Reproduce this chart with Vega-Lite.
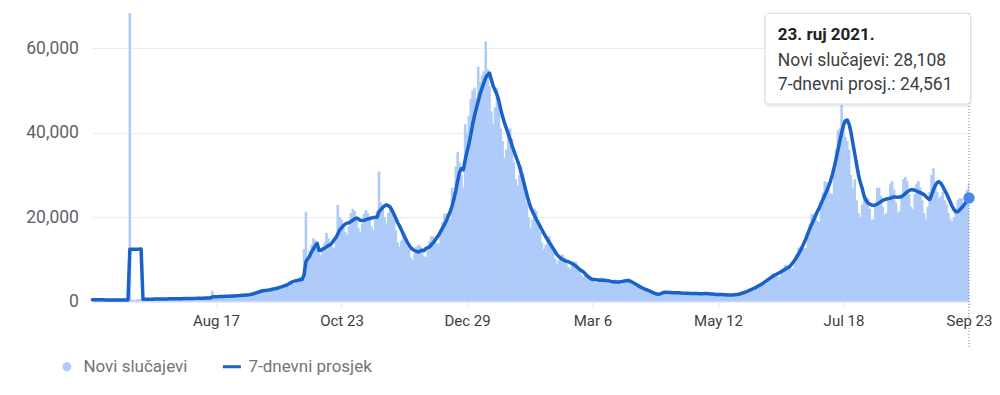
{
"$schema": "https://vega.github.io/schema/vega-lite/v6.json",
"width": 876.6,
"height": 288.8,
"autosize": {"type": "none"},
"padding": {"left": 92.4, "top": 13, "right": 31, "bottom": 93.2},
"background": "white",
"config": {"view": {"stroke": null}, "font": "Roboto", "text": {"font": "Roboto"}},
"data": {"values": [
{"d":"2020-06-12","c":540,"a":500},{"d":"2020-06-13","c":500,"a":490},{"d":"2020-06-14","c":430,"a":480},{"d":"2020-06-15","c":400,"a":470},{"d":"2020-06-16","c":460,"a":470},{"d":"2020-06-17","c":490,"a":460},{"d":"2020-06-18","c":520,"a":460},{"d":"2020-06-19","c":480,"a":450},{"d":"2020-06-20","c":450,"a":450},{"d":"2020-06-21","c":400,"a":440},{"d":"2020-06-22","c":380,"a":440},{"d":"2020-06-23","c":450,"a":430},{"d":"2020-06-24","c":470,"a":430},{"d":"2020-06-25","c":490,"a":430},{"d":"2020-06-26","c":460,"a":420},{"d":"2020-06-27","c":420,"a":420},{"d":"2020-06-28","c":380,"a":420},{"d":"2020-06-29","c":360,"a":420},{"d":"2020-06-30","c":420,"a":420},
{"d":"2020-07-01","c":450,"a":420},{"d":"2020-07-02","c":84400,"a":12400},{"d":"2020-07-03","c":560,"a":12410},{"d":"2020-07-04","c":480,"a":12420},{"d":"2020-07-05","c":450,"a":12430},{"d":"2020-07-06","c":560,"a":12450},{"d":"2020-07-07","c":620,"a":12460},{"d":"2020-07-08","c":650,"a":12480},{"d":"2020-07-09","c":640,"a":600},{"d":"2020-07-10","c":600,"a":610},{"d":"2020-07-11","c":540,"a":610},{"d":"2020-07-12","c":520,"a":620},{"d":"2020-07-13","c":600,"a":620},{"d":"2020-07-14","c":680,"a":630},{"d":"2020-07-15","c":700,"a":640},{"d":"2020-07-16","c":690,"a":640},{"d":"2020-07-17","c":640,"a":650},{"d":"2020-07-18","c":590,"a":660},{"d":"2020-07-19","c":560,"a":660},{"d":"2020-07-20","c":650,"a":670},{"d":"2020-07-21","c":720,"a":680},{"d":"2020-07-22","c":760,"a":690},{"d":"2020-07-23","c":750,"a":700},{"d":"2020-07-24","c":700,"a":700},{"d":"2020-07-25","c":640,"a":710},{"d":"2020-07-26","c":600,"a":710},{"d":"2020-07-27","c":700,"a":720},{"d":"2020-07-28","c":780,"a":730},{"d":"2020-07-29","c":820,"a":740},{"d":"2020-07-30","c":810,"a":750},{"d":"2020-07-31","c":760,"a":760},
{"d":"2020-08-01","c":690,"a":770},{"d":"2020-08-02","c":660,"a":780},{"d":"2020-08-03","c":760,"a":790},{"d":"2020-08-04","c":850,"a":800},{"d":"2020-08-05","c":900,"a":800},{"d":"2020-08-06","c":870,"a":810},{"d":"2020-08-07","c":820,"a":820},{"d":"2020-08-08","c":750,"a":830},{"d":"2020-08-09","c":710,"a":840},{"d":"2020-08-10","c":820,"a":850},{"d":"2020-08-11","c":930,"a":870},{"d":"2020-08-12","c":1000,"a":890},{"d":"2020-08-13","c":980,"a":900},{"d":"2020-08-14","c":930,"a":920},{"d":"2020-08-15","c":2600,"a":1150},{"d":"2020-08-16","c":800,"a":1180},{"d":"2020-08-17","c":1050,"a":1200},{"d":"2020-08-18","c":1150,"a":1220},{"d":"2020-08-19","c":1300,"a":1240},{"d":"2020-08-20","c":1380,"a":1260},{"d":"2020-08-21","c":1300,"a":1280},{"d":"2020-08-22","c":1250,"a":1290},{"d":"2020-08-23","c":1180,"a":1310},{"d":"2020-08-24","c":1120,"a":1330},{"d":"2020-08-25","c":1300,"a":1350},{"d":"2020-08-26","c":1450,"a":1370},{"d":"2020-08-27","c":1580,"a":1400},{"d":"2020-08-28","c":1540,"a":1430},{"d":"2020-08-29","c":1460,"a":1460},{"d":"2020-08-30","c":1350,"a":1500},{"d":"2020-08-31","c":1300,"a":1530},
{"d":"2020-09-01","c":1510,"a":1560},{"d":"2020-09-02","c":1700,"a":1590},{"d":"2020-09-03","c":1830,"a":1620},{"d":"2020-09-04","c":1840,"a":1700},{"d":"2020-09-05","c":1800,"a":1800},{"d":"2020-09-06","c":1710,"a":1900},{"d":"2020-09-07","c":1740,"a":2050},{"d":"2020-09-08","c":2130,"a":2200},{"d":"2020-09-09","c":2510,"a":2350},{"d":"2020-09-10","c":2830,"a":2500},{"d":"2020-09-11","c":2810,"a":2600},{"d":"2020-09-12","c":2650,"a":2650},{"d":"2020-09-13","c":2430,"a":2700},{"d":"2020-09-14","c":2360,"a":2780},{"d":"2020-09-15","c":2760,"a":2850},{"d":"2020-09-16","c":3160,"a":2950},{"d":"2020-09-17","c":3450,"a":3050},{"d":"2020-09-18","c":3400,"a":3150},{"d":"2020-09-19","c":3250,"a":3250},{"d":"2020-09-20","c":3060,"a":3400},{"d":"2020-09-21","c":3020,"a":3550},{"d":"2020-09-22","c":3590,"a":3700},{"d":"2020-09-23","c":4120,"a":3850},{"d":"2020-09-24","c":4520,"a":4000},{"d":"2020-09-25","c":4640,"a":4300},{"d":"2020-09-26","c":4550,"a":4550},{"d":"2020-09-27","c":4280,"a":4760},{"d":"2020-09-28","c":4170,"a":4900},{"d":"2020-09-29","c":4850,"a":5000},{"d":"2020-09-30","c":5460,"a":5100},
{"d":"2020-10-01","c":5880,"a":5200},{"d":"2020-10-02","c":5720,"a":5300},{"d":"2020-10-03","c":12500,"a":6400},{"d":"2020-10-04","c":21300,"a":9500},{"d":"2020-10-05","c":10000,"a":10200},{"d":"2020-10-06","c":12000,"a":10800},{"d":"2020-10-07","c":13500,"a":11800},{"d":"2020-10-08","c":15000,"a":12500},{"d":"2020-10-09","c":14500,"a":13300},{"d":"2020-10-10","c":13500,"a":13800},{"d":"2020-10-11","c":11500,"a":12100},{"d":"2020-10-12","c":11000,"a":12200},{"d":"2020-10-13","c":12500,"a":12500},{"d":"2020-10-14","c":14000,"a":12700},{"d":"2020-10-15","c":16300,"a":13000},{"d":"2020-10-16","c":15000,"a":13300},{"d":"2020-10-17","c":13800,"a":13500},{"d":"2020-10-18","c":13000,"a":14000},{"d":"2020-10-19","c":12800,"a":14600},{"d":"2020-10-20","c":15000,"a":15200},{"d":"2020-10-21","c":22900,"a":16000},{"d":"2020-10-22","c":20000,"a":17000},{"d":"2020-10-23","c":19500,"a":17500},{"d":"2020-10-24","c":18500,"a":18000},{"d":"2020-10-25","c":16500,"a":18400},{"d":"2020-10-26","c":15800,"a":18600},{"d":"2020-10-27","c":18000,"a":18700},{"d":"2020-10-28","c":21000,"a":19000},{"d":"2020-10-29","c":22000,"a":19300},{"d":"2020-10-30","c":21500,"a":19600},{"d":"2020-10-31","c":20000,"a":19800},
{"d":"2020-11-01","c":17500,"a":19600},{"d":"2020-11-02","c":16500,"a":19300},{"d":"2020-11-03","c":18500,"a":19200},{"d":"2020-11-04","c":20800,"a":19300},{"d":"2020-11-05","c":21700,"a":19400},{"d":"2020-11-06","c":21000,"a":19600},{"d":"2020-11-07","c":19800,"a":19700},{"d":"2020-11-08","c":17800,"a":19800},{"d":"2020-11-09","c":16900,"a":19900},{"d":"2020-11-10","c":19500,"a":20000},{"d":"2020-11-11","c":21500,"a":20000},{"d":"2020-11-12","c":30800,"a":21300},{"d":"2020-11-13","c":23500,"a":21800},{"d":"2020-11-14","c":22500,"a":22300},{"d":"2020-11-15","c":20000,"a":22700},{"d":"2020-11-16","c":18500,"a":22900},{"d":"2020-11-17","c":21000,"a":22700},{"d":"2020-11-18","c":23000,"a":22400},{"d":"2020-11-19","c":21500,"a":21600},{"d":"2020-11-20","c":19500,"a":20700},{"d":"2020-11-21","c":17000,"a":19700},{"d":"2020-11-22","c":14000,"a":18700},{"d":"2020-11-23","c":13000,"a":17900},{"d":"2020-11-24","c":14500,"a":17000},{"d":"2020-11-25","c":16000,"a":16000},{"d":"2020-11-26","c":15000,"a":15100},{"d":"2020-11-27","c":13000,"a":14200},{"d":"2020-11-28","c":12500,"a":13400},{"d":"2020-11-29","c":10500,"a":12800},{"d":"2020-11-30","c":9900,"a":12400},
{"d":"2020-12-01","c":11500,"a":12100},{"d":"2020-12-02","c":13000,"a":11900},{"d":"2020-12-03","c":13500,"a":11800},{"d":"2020-12-04","c":13200,"a":12000},{"d":"2020-12-05","c":12300,"a":12200},{"d":"2020-12-06","c":10800,"a":12100},{"d":"2020-12-07","c":10600,"a":12600},{"d":"2020-12-08","c":12700,"a":12800},{"d":"2020-12-09","c":14300,"a":13000},{"d":"2020-12-10","c":15500,"a":13500},{"d":"2020-12-11","c":15500,"a":14000},{"d":"2020-12-12","c":14600,"a":14600},{"d":"2020-12-13","c":13800,"a":15200},{"d":"2020-12-14","c":13800,"a":15900},{"d":"2020-12-15","c":16500,"a":16700},{"d":"2020-12-16","c":18900,"a":17500},{"d":"2020-12-17","c":20800,"a":18300},{"d":"2020-12-18","c":20900,"a":19200},{"d":"2020-12-19","c":20500,"a":20300},{"d":"2020-12-20","c":19500,"a":21300},{"d":"2020-12-21","c":27000,"a":22600},{"d":"2020-12-22","c":26000,"a":24300},{"d":"2020-12-23","c":32000,"a":26300},{"d":"2020-12-24","c":35500,"a":28600},{"d":"2020-12-25","c":33000,"a":30600},{"d":"2020-12-26","c":30000,"a":31500},{"d":"2020-12-27","c":27000,"a":31200},{"d":"2020-12-28","c":42000,"a":33500},{"d":"2020-12-29","c":40000,"a":35500},{"d":"2020-12-30","c":44000,"a":37300},{"d":"2020-12-31","c":48000,"a":39500},
{"d":"2021-01-01","c":50000,"a":42000},{"d":"2021-01-02","c":50600,"a":44000},{"d":"2021-01-03","c":48000,"a":45800},{"d":"2021-01-04","c":55600,"a":47500},{"d":"2021-01-05","c":52000,"a":49200},{"d":"2021-01-06","c":53500,"a":50500},{"d":"2021-01-07","c":54500,"a":51800},{"d":"2021-01-08","c":61600,"a":53000},{"d":"2021-01-09","c":55000,"a":53700},{"d":"2021-01-10","c":51000,"a":54100},{"d":"2021-01-11","c":45000,"a":52500},{"d":"2021-01-12","c":42000,"a":51000},{"d":"2021-01-13","c":46000,"a":50000},{"d":"2021-01-14","c":50600,"a":49000},{"d":"2021-01-15","c":48500,"a":47500},{"d":"2021-01-16","c":41000,"a":45500},{"d":"2021-01-17","c":38000,"a":43800},{"d":"2021-01-18","c":34000,"a":42300},{"d":"2021-01-19","c":36000,"a":41000},{"d":"2021-01-20","c":40500,"a":39700},{"d":"2021-01-21","c":41000,"a":38500},{"d":"2021-01-22","c":38500,"a":37000},{"d":"2021-01-23","c":33000,"a":35700},{"d":"2021-01-24","c":29000,"a":34500},{"d":"2021-01-25","c":27500,"a":33300},{"d":"2021-01-26","c":30000,"a":32000},{"d":"2021-01-27","c":32000,"a":30300},{"d":"2021-01-28","c":30500,"a":28800},{"d":"2021-01-29","c":27500,"a":27000},{"d":"2021-01-30","c":23500,"a":25300},{"d":"2021-01-31","c":20000,"a":23700},
{"d":"2021-02-01","c":17500,"a":22300},{"d":"2021-02-02","c":19500,"a":21300},{"d":"2021-02-03","c":22000,"a":20400},{"d":"2021-02-04","c":21500,"a":19500},{"d":"2021-02-05","c":19500,"a":18700},{"d":"2021-02-06","c":16500,"a":17900},{"d":"2021-02-07","c":14000,"a":17000},{"d":"2021-02-08","c":12500,"a":16200},{"d":"2021-02-09","c":13500,"a":15400},{"d":"2021-02-10","c":15500,"a":14700},{"d":"2021-02-11","c":15500,"a":14000},{"d":"2021-02-12","c":14000,"a":13300},{"d":"2021-02-13","c":11800,"a":12600},{"d":"2021-02-14","c":10200,"a":11900},{"d":"2021-02-15","c":9000,"a":11200},{"d":"2021-02-16","c":9800,"a":10700},{"d":"2021-02-17","c":11000,"a":10300},{"d":"2021-02-18","c":11200,"a":10000},{"d":"2021-02-19","c":10500,"a":9800},{"d":"2021-02-20","c":9300,"a":9600},{"d":"2021-02-21","c":8300,"a":9500},{"d":"2021-02-22","c":7800,"a":9300},{"d":"2021-02-23","c":8800,"a":9100},{"d":"2021-02-24","c":9400,"a":8800},{"d":"2021-02-25","c":9500,"a":8500},{"d":"2021-02-26","c":8700,"a":8100},{"d":"2021-02-27","c":7500,"a":7700},{"d":"2021-02-28","c":6400,"a":7400},
{"d":"2021-03-01","c":5800,"a":7100},{"d":"2021-03-02","c":6300,"a":6700},{"d":"2021-03-03","c":6500,"a":6200},{"d":"2021-03-04","c":6400,"a":5800},{"d":"2021-03-05","c":5900,"a":5500},{"d":"2021-03-06","c":5200,"a":5300},{"d":"2021-03-07","c":4700,"a":5250},{"d":"2021-03-08","c":4400,"a":5200},{"d":"2021-03-09","c":5000,"a":5150},{"d":"2021-03-10","c":5500,"a":5100},{"d":"2021-03-11","c":5800,"a":5100},{"d":"2021-03-12","c":5500,"a":5100},{"d":"2021-03-13","c":5000,"a":5050},{"d":"2021-03-14","c":4500,"a":5000},{"d":"2021-03-15","c":4200,"a":4900},{"d":"2021-03-16","c":4600,"a":4800},{"d":"2021-03-17","c":5100,"a":4750},{"d":"2021-03-18","c":5300,"a":4700},{"d":"2021-03-19","c":5100,"a":4700},{"d":"2021-03-20","c":4700,"a":4700},{"d":"2021-03-21","c":4300,"a":4750},{"d":"2021-03-22","c":4100,"a":4800},{"d":"2021-03-23","c":4800,"a":4900},{"d":"2021-03-24","c":5400,"a":5000},{"d":"2021-03-25","c":5600,"a":5000},{"d":"2021-03-26","c":5300,"a":4900},{"d":"2021-03-27","c":4700,"a":4700},{"d":"2021-03-28","c":4000,"a":4450},{"d":"2021-03-29","c":3600,"a":4200},{"d":"2021-03-30","c":3800,"a":3900},{"d":"2021-03-31","c":3900,"a":3650},
{"d":"2021-04-01","c":3800,"a":3400},{"d":"2021-04-02","c":3400,"a":3200},{"d":"2021-04-03","c":3000,"a":3000},{"d":"2021-04-04","c":2550,"a":2850},{"d":"2021-04-05","c":2250,"a":2650},{"d":"2021-04-06","c":2400,"a":2450},{"d":"2021-04-07","c":2400,"a":2250},{"d":"2021-04-08","c":2300,"a":2050},{"d":"2021-04-09","c":2050,"a":1900},{"d":"2021-04-10","c":1800,"a":1800},{"d":"2021-04-11","c":1700,"a":1850},{"d":"2021-04-12","c":2300,"a":2050},{"d":"2021-04-13","c":2600,"a":2200},{"d":"2021-04-14","c":2500,"a":2250},{"d":"2021-04-15","c":2500,"a":2250},{"d":"2021-04-16","c":2300,"a":2200},{"d":"2021-04-17","c":2200,"a":2200},{"d":"2021-04-18","c":1900,"a":2150},{"d":"2021-04-19","c":1850,"a":2150},{"d":"2021-04-20","c":2100,"a":2150},{"d":"2021-04-21","c":2300,"a":2150},{"d":"2021-04-22","c":2350,"a":2100},{"d":"2021-04-23","c":2200,"a":2050},{"d":"2021-04-24","c":2000,"a":2000},{"d":"2021-04-25","c":1800,"a":2000},{"d":"2021-04-26","c":1700,"a":2000},{"d":"2021-04-27","c":1900,"a":1950},{"d":"2021-04-28","c":2100,"a":1950},{"d":"2021-04-29","c":2200,"a":1950},{"d":"2021-04-30","c":2100,"a":1950},
{"d":"2021-05-01","c":1950,"a":1950},{"d":"2021-05-02","c":1700,"a":1900},{"d":"2021-05-03","c":1600,"a":1900},{"d":"2021-05-04","c":1850,"a":1900},{"d":"2021-05-05","c":2100,"a":1950},{"d":"2021-05-06","c":2200,"a":1950},{"d":"2021-05-07","c":2050,"a":1900},{"d":"2021-05-08","c":1850,"a":1850},{"d":"2021-05-09","c":1650,"a":1850},{"d":"2021-05-10","c":1550,"a":1800},{"d":"2021-05-11","c":1700,"a":1750},{"d":"2021-05-12","c":1850,"a":1750},{"d":"2021-05-13","c":1900,"a":1700},{"d":"2021-05-14","c":1850,"a":1700},{"d":"2021-05-15","c":1650,"a":1650},{"d":"2021-05-16","c":1500,"a":1650},{"d":"2021-05-17","c":1400,"a":1600},{"d":"2021-05-18","c":1550,"a":1600},{"d":"2021-05-19","c":1700,"a":1600},{"d":"2021-05-20","c":1800,"a":1600},{"d":"2021-05-21","c":1800,"a":1650},{"d":"2021-05-22","c":1700,"a":1700},{"d":"2021-05-23","c":1650,"a":1800},{"d":"2021-05-24","c":1650,"a":1900},{"d":"2021-05-25","c":2000,"a":2050},{"d":"2021-05-26","c":2350,"a":2200},{"d":"2021-05-27","c":2650,"a":2350},{"d":"2021-05-28","c":2750,"a":2550},{"d":"2021-05-29","c":2750,"a":2750},{"d":"2021-05-30","c":2650,"a":2950},{"d":"2021-05-31","c":2700,"a":3150},
{"d":"2021-06-01","c":3250,"a":3350},{"d":"2021-06-02","c":3850,"a":3600},{"d":"2021-06-03","c":4350,"a":3850},{"d":"2021-06-04","c":4450,"a":4100},{"d":"2021-06-05","c":4400,"a":4400},{"d":"2021-06-06","c":4250,"a":4700},{"d":"2021-06-07","c":4250,"a":5000},{"d":"2021-06-08","c":5200,"a":5350},{"d":"2021-06-09","c":6050,"a":5650},{"d":"2021-06-10","c":6700,"a":5950},{"d":"2021-06-11","c":6700,"a":6200},{"d":"2021-06-12","c":6450,"a":6450},{"d":"2021-06-13","c":6000,"a":6700},{"d":"2021-06-14","c":5900,"a":6950},{"d":"2021-06-15","c":7000,"a":7200},{"d":"2021-06-16","c":8000,"a":7450},{"d":"2021-06-17","c":8750,"a":7750},{"d":"2021-06-18","c":8650,"a":8000},{"d":"2021-06-19","c":8250,"a":8250},{"d":"2021-06-20","c":7800,"a":8700},{"d":"2021-06-21","c":7900,"a":9300},{"d":"2021-06-22","c":9600,"a":9900},{"d":"2021-06-23","c":11300,"a":10600},{"d":"2021-06-24","c":12800,"a":11300},{"d":"2021-06-25","c":13100,"a":12100},{"d":"2021-06-26","c":13000,"a":13000},{"d":"2021-06-27","c":12600,"a":14000},{"d":"2021-06-28","c":12800,"a":15000},{"d":"2021-06-29","c":15700,"a":16200},{"d":"2021-06-30","c":18500,"a":17300},
{"d":"2021-07-01","c":20700,"a":18300},{"d":"2021-07-02","c":20800,"a":19300},{"d":"2021-07-03","c":20300,"a":20300},{"d":"2021-07-04","c":19200,"a":21300},{"d":"2021-07-05","c":18900,"a":22200},{"d":"2021-07-06","c":22500,"a":23200},{"d":"2021-07-07","c":25900,"a":24200},{"d":"2021-07-08","c":28500,"a":25200},{"d":"2021-07-09","c":28300,"a":26200},{"d":"2021-07-10","c":27300,"a":27300},{"d":"2021-07-11","c":25700,"a":28500},{"d":"2021-07-12","c":25500,"a":30000},{"d":"2021-07-13","c":30800,"a":31800},{"d":"2021-07-14","c":36100,"a":33700},{"d":"2021-07-15","c":40500,"a":35800},{"d":"2021-07-16","c":41000,"a":38000},{"d":"2021-07-17","c":46600,"a":40000},{"d":"2021-07-18","c":42000,"a":41800},{"d":"2021-07-19","c":39000,"a":42800},{"d":"2021-07-20","c":38000,"a":43000},{"d":"2021-07-21","c":36000,"a":42000},{"d":"2021-07-22","c":30000,"a":40000},{"d":"2021-07-23","c":27000,"a":37500},{"d":"2021-07-24","c":29000,"a":35000},{"d":"2021-07-25","c":24000,"a":32500},{"d":"2021-07-26","c":21000,"a":30000},{"d":"2021-07-27","c":20000,"a":28200},{"d":"2021-07-28","c":23000,"a":26800},{"d":"2021-07-29","c":25000,"a":25000},{"d":"2021-07-30","c":25000,"a":24000},{"d":"2021-07-31","c":24500,"a":23400},
{"d":"2021-08-01","c":22000,"a":23100},{"d":"2021-08-02","c":19400,"a":22900},{"d":"2021-08-03","c":19500,"a":22800},{"d":"2021-08-04","c":23000,"a":22900},{"d":"2021-08-05","c":27000,"a":23100},{"d":"2021-08-06","c":27000,"a":23400},{"d":"2021-08-07","c":25000,"a":23700},{"d":"2021-08-08","c":22500,"a":24000},{"d":"2021-08-09","c":20500,"a":24200},{"d":"2021-08-10","c":21000,"a":24300},{"d":"2021-08-11","c":24000,"a":24400},{"d":"2021-08-12","c":28000,"a":24500},{"d":"2021-08-13","c":28500,"a":24700},{"d":"2021-08-14","c":26500,"a":24800},{"d":"2021-08-15","c":23500,"a":24800},{"d":"2021-08-16","c":21000,"a":24700},{"d":"2021-08-17","c":21500,"a":24800},{"d":"2021-08-18","c":25000,"a":24900},{"d":"2021-08-19","c":29000,"a":25200},{"d":"2021-08-20","c":29500,"a":25600},{"d":"2021-08-21","c":28500,"a":26000},{"d":"2021-08-22","c":25500,"a":26300},{"d":"2021-08-23","c":22500,"a":26500},{"d":"2021-08-24","c":22000,"a":26500},{"d":"2021-08-25","c":25500,"a":26400},{"d":"2021-08-26","c":28000,"a":26200},{"d":"2021-08-27","c":28500,"a":26000},{"d":"2021-08-28","c":27000,"a":25800},{"d":"2021-08-29","c":24000,"a":25600},{"d":"2021-08-30","c":21000,"a":25300},{"d":"2021-08-31","c":19500,"a":24900},
{"d":"2021-09-01","c":22500,"a":24500},{"d":"2021-09-02","c":26000,"a":24200},{"d":"2021-09-03","c":30000,"a":25200},{"d":"2021-09-04","c":31600,"a":26500},{"d":"2021-09-05","c":28000,"a":27500},{"d":"2021-09-06","c":26000,"a":28200},{"d":"2021-09-07","c":24500,"a":28400},{"d":"2021-09-08","c":25000,"a":28000},{"d":"2021-09-09","c":26000,"a":27300},{"d":"2021-09-10","c":24000,"a":26400},{"d":"2021-09-11","c":23000,"a":25600},{"d":"2021-09-12","c":21000,"a":24600},{"d":"2021-09-13","c":19500,"a":23600},{"d":"2021-09-14","c":19000,"a":22600},{"d":"2021-09-15","c":20000,"a":21800},{"d":"2021-09-16","c":22000,"a":21300},{"d":"2021-09-17","c":24000,"a":21300},{"d":"2021-09-18","c":24500,"a":21700},{"d":"2021-09-19","c":24500,"a":22200},{"d":"2021-09-20","c":22500,"a":22700},{"d":"2021-09-21","c":23000,"a":23300},{"d":"2021-09-22","c":26500,"a":23900},{"d":"2021-09-23","c":28108,"a":24561}
]},
"encoding": {
  "x": {"field": "d", "type": "temporal", "title": null,
    "scale": {"type": "utc", "padding": 0, "domain": [{"year": 2020, "month": 6, "date": 12, "utc": true}, {"year": 2021, "month": 9, "date": 23, "utc": true}]},
    "axis": {"values": [{"year": 2020, "month": 8, "date": 17, "utc": true}, {"year": 2020, "month": 10, "date": 23, "utc": true}, {"year": 2020, "month": 12, "date": 29, "utc": true}, {"year": 2021, "month": 3, "date": 6, "utc": true}, {"year": 2021, "month": 5, "date": 12, "utc": true}, {"year": 2021, "month": 7, "date": 18, "utc": true}, {"year": 2021, "month": 9, "date": 23, "utc": true}],
      "format": "%b %-d", "grid": false, "domain": false, "ticks": true, "tickSize": 5, "tickColor": "#e3e3e3", "labelPadding": 7, "labelFont": "Roboto", "labelFontSize": 15, "labelColor": "#3c4043", "labelFlush": false, "labelOverlap": false, "title": null}},
  "y": {"field": "c", "type": "quantitative", "title": null,
    "scale": {"domain": [0, 68300], "nice": false},
    "axis": {"values": [0, 20000, 40000, 60000], "format": ",d", "grid": true, "gridColor": "#ebebeb", "domain": false, "ticks": false, "labelPadding": 14, "labelFont": "Roboto", "labelFontSize": 17.5, "labelColor": "#5f6368", "title": null}}
},
"layer": [
  {"mark": {"type": "bar", "width": 2.6, "clip": true},
   "encoding": {
     "color": {"datum": "Novi slučajevi", "type": "nominal",
       "scale": {"domain": ["Novi slučajevi", "7-dnevni prosjek"], "range": ["#aecbfa", "#1a62c8"]},
       "legend": {"orient": "none", "legendX": -34, "legendY": 345, "direction": "horizontal", "title": null, "padding": 0,
         "labelFont": "Roboto", "labelFontSize": 17, "labelColor": "#70757a", "symbolSize": 324, "labelOffset": 8, "columnPadding": 28,
         "encode": {"symbols": {"update": {
           "shape": {"signal": "datum.value === 'Novi slučajevi' ? 'circle' : 'stroke'"},
           "size": {"signal": "datum.value === 'Novi slučajevi' ? 80 : 324"},
           "strokeWidth": {"signal": "datum.value === 'Novi slučajevi' ? 0 : 3"},
           "fill": {"signal": "datum.value === 'Novi slučajevi' ? '#aecbfa' : 'transparent'"},
           "stroke": {"signal": "datum.value === 'Novi slučajevi' ? 'transparent' : '#1a62c8'"},
           "opacity": {"value": 1}}}}}}
   }},
  {"mark": {"type": "line", "strokeWidth": 3.5, "strokeJoin": "round", "strokeCap": "round"},
   "encoding": {
     "y": {"field": "a", "type": "quantitative", "title": null},
     "color": {"datum": "7-dnevni prosjek", "type": "nominal"}
   }},
  {"transform": [{"filter": "datum.a == 24561"}],
   "mark": {"type": "rule", "color": "#80868b", "strokeWidth": 1, "strokeDash": [1, 2]},
   "encoding": {
     "y": {"datum": 68300},
     "y2": {"datum": -10700}
   }},
  {"transform": [{"filter": "datum.a == 24561"}],
   "mark": {"type": "rect", "fill": "#000000", "opacity": 0.06, "cornerRadius": 6},
   "encoding": {
     "x": {"datum": {"year": 2021, "month": 6, "date": 5, "hours": 14, "utc": true}},
     "x2": {"datum": {"year": 2021, "month": 9, "date": 24, "hours": 12, "utc": true}},
     "y": {"datum": 68300},
     "y2": {"datum": 46000}
   }},
  {"transform": [{"filter": "datum.a == 24561"}],
   "mark": {"type": "rect", "fill": "white", "stroke": "#dadce0", "strokeWidth": 1, "cornerRadius": 4},
   "encoding": {
     "x": {"datum": {"year": 2021, "month": 6, "date": 6, "hours": 2, "utc": true}},
     "x2": {"datum": {"year": 2021, "month": 9, "date": 23, "hours": 22, "utc": true}},
     "y": {"datum": 68250},
     "y2": {"datum": 46780}
   }},
  {"transform": [{"filter": "datum.a == 24561"}],
   "mark": {"type": "text", "align": "left", "baseline": "alphabetic", "font": "Roboto", "fontSize": 17, "fontWeight": "bold", "color": "#202124"},
   "encoding": {
     "x": {"datum": {"year": 2021, "month": 6, "date": 12, "hours": 22, "utc": true}},
     "y": {"datum": 61800},
     "text": {"value": "23. ruj 2021."}
   }},
  {"transform": [{"filter": "datum.a == 24561"}],
   "mark": {"type": "text", "align": "left", "baseline": "alphabetic", "font": "Roboto", "fontSize": 17.5, "color": "#3c4043"},
   "encoding": {
     "x": {"datum": {"year": 2021, "month": 6, "date": 12, "hours": 22, "utc": true}},
     "y": {"datum": 55650},
     "text": {"value": "Novi slučajevi: 28,108"}
   }},
  {"transform": [{"filter": "datum.a == 24561"}],
   "mark": {"type": "text", "align": "left", "baseline": "alphabetic", "font": "Roboto", "fontSize": 17.5, "color": "#3c4043"},
   "encoding": {
     "x": {"datum": {"year": 2021, "month": 6, "date": 12, "hours": 22, "utc": true}},
     "y": {"datum": 50200},
     "text": {"value": "7-dnevni prosj.: 24,561"}
   }},
  {"transform": [{"filter": "datum.a == 24561"}],
   "mark": {"type": "point", "filled": true, "size": 130, "color": "#4a86e8", "opacity": 1},
   "encoding": {
     "y": {"field": "a", "type": "quantitative", "title": null}
   }}
]
}
